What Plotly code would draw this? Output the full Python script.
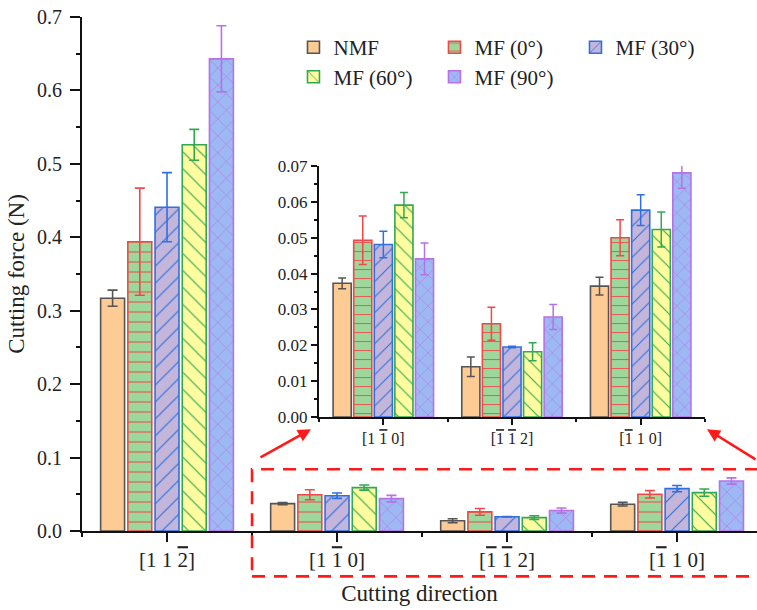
import plotly.graph_objects as go

OB = '<span style="text-decoration:overline">{}</span>'

# categories (index 0 is shown only in main axes; 1..3 also in inset)
directions = ["[1 1 " + OB.format("2") + "]",
              "[1 " + OB.format("1") + " 0]",
              "[" + OB.format("1") + " " + OB.format("1") + " 2]",
              "[" + OB.format("1") + " 1 0]"]

series_names = ["NMF", "MF (0°)", "MF (30°)", "MF (60°)", "MF (90°)"]

nmf = [0.317, 0.0373, 0.0140, 0.0365]
mf0 = [0.394, 0.0493, 0.0260, 0.0500]
mf30 = [0.441, 0.0481, 0.0195, 0.0577]
mf60 = [0.526, 0.0591, 0.0182, 0.0523]
mf90 = [0.643, 0.0441, 0.0279, 0.0681]

nmf_err = [0.011, 0.0015, 0.0027, 0.0025]
mf0_err = [0.073, 0.0068, 0.0046, 0.0050]
mf30_err = [0.047, 0.0037, 0.0002, 0.0043]
mf60_err = [0.021, 0.0035, 0.0025, 0.0049]
mf90_err = [0.045, 0.0044, 0.0035, 0.0043]

values = [nmf, mf0, mf30, mf60, mf90]
errors = [nmf_err, mf0_err, mf30_err, mf60_err, mf90_err]

fills = ["#FDCB93", "#9ED79C", "#C4B6DA", "#FFFDA0", "#9DB9F4"]
edges = ["#555555", "#F04848", "#2E70E0", "#33A852", "#B672E4"]
shapes_ = ["", "-", "/", "\\", "x"]
psize = [10, 10, 12, 12, 12]

FONT = "Liberation Serif"
fig = go.Figure()

xs_main = list(range(len(directions)))
xs_inset = list(range(len(directions) - 1))


def make_marker(i, size):
    return dict(color=fills[i], line=dict(color=edges[i], width=1.6),
                pattern=dict(shape=shapes_[i], fgcolor=edges[i], bgcolor=fills[i],
                             size=size, solidity=0.1, fgopacity=1, fillmode="replace"))


for i, name in enumerate(series_names):
    fig.add_trace(go.Bar(
        x=xs_main, y=values[i], name=name, marker=make_marker(i, psize[i]),
        error_y=dict(type="data", array=errors[i], color=edges[i], thickness=1.6, width=5),
        legend="legend" if i < 3 else "legend2",
        xaxis="x", yaxis="y"))
for i, name in enumerate(series_names):
    fig.add_trace(go.Bar(
        x=xs_inset, y=values[i][1:], name=name, marker=make_marker(i, psize[i] - 1),
        showlegend=False,
        error_y=dict(type="data", array=errors[i][1:], color=edges[i], thickness=1.5, width=4),
        xaxis="x2", yaxis="y2"))

axis_common = dict(showline=True, linecolor="#111", linewidth=2, ticks="outside",
                   tickcolor="#111", tickwidth=1.8, showgrid=False, zeroline=False,
                   mirror=False)

fig.update_layout(
    width=757, height=610,
    margin=dict(l=82, r=0, t=17, b=79),
    paper_bgcolor="white", plot_bgcolor="white",
    font=dict(family=FONT, color="#222", size=20),
    barmode="group", bargap=0.2, bargroupgap=0.12,
    xaxis=dict(**axis_common, range=[-0.5, 3.47], tickvals=xs_main, ticktext=directions,
               ticklen=9, tickfont=dict(size=21),
               minor=dict(ticks="outside", tick0=0.5, dtick=1, ticklen=4, tickwidth=1.8, tickcolor="#111"),
               title=dict(text="Cutting direction", font=dict(size=23), standoff=14)),
    yaxis=dict(**axis_common, range=[0, 0.7], dtick=0.1, tickformat=".1f", ticklen=10,
               tickfont=dict(size=20), ticklabelstandoff=4,
               minor=dict(ticks="outside", dtick=0.05, ticklen=4, tickwidth=1.8, tickcolor="#111"),
               title=dict(text="Cutting force (N)", font=dict(size=23), standoff=6)),
    xaxis2=dict(**axis_common, domain=[0.3511, 0.9230], anchor="y2", range=[-0.5, 2.5],
                tickvals=xs_inset, ticktext=directions[1:], ticklen=6,
                tickfont=dict(size=16),
                minor=dict(ticks="outside", tick0=0.5, dtick=1, ticklen=3, tickwidth=1.6, tickcolor="#111")),
    yaxis2=dict(**axis_common, domain=[0.2219, 0.710], anchor="x2", range=[0, 0.07],
                dtick=0.01, tickformat=".2f", ticklen=6, tickfont=dict(size=17),
                minor=dict(ticks="outside", dtick=0.005, ticklen=3, tickwidth=1.6, tickcolor="#111")),
    legend=dict(orientation="h", x=0.3133, y=0.9406, yanchor="middle", xanchor="left",
                entrywidth=96, font=dict(size=21), bgcolor="rgba(0,0,0,0)", traceorder="normal"),
    legend2=dict(orientation="h", x=0.3133, y=0.883, yanchor="middle", xanchor="left",
                 entrywidth=96, font=dict(size=21), bgcolor="rgba(0,0,0,0)", traceorder="normal"),
    shapes=[dict(type="rect", xref="paper", yref="paper", x0=0.2519, x1=1.02, y0=-0.0882, y1=0.1201,
                 line=dict(color="#FF1A1A", width=2.6, dash="13px,9px"), fillcolor="rgba(0,0,0,0)")],
    annotations=[
        dict(xref="paper", yref="paper", x=0.3393, y=0.198, ax=-52, ay=29, text="", showarrow=True,
             arrowhead=2, arrowsize=1, arrowwidth=2.6, arrowcolor="#FF1A1A"),
        dict(xref="paper", yref="paper", x=0.9259, y=0.198, ax=55, ay=31, text="", showarrow=True,
             arrowhead=2, arrowsize=1, arrowwidth=2.6, arrowcolor="#FF1A1A"),
    ],
)

fig.write_html("out.html")
